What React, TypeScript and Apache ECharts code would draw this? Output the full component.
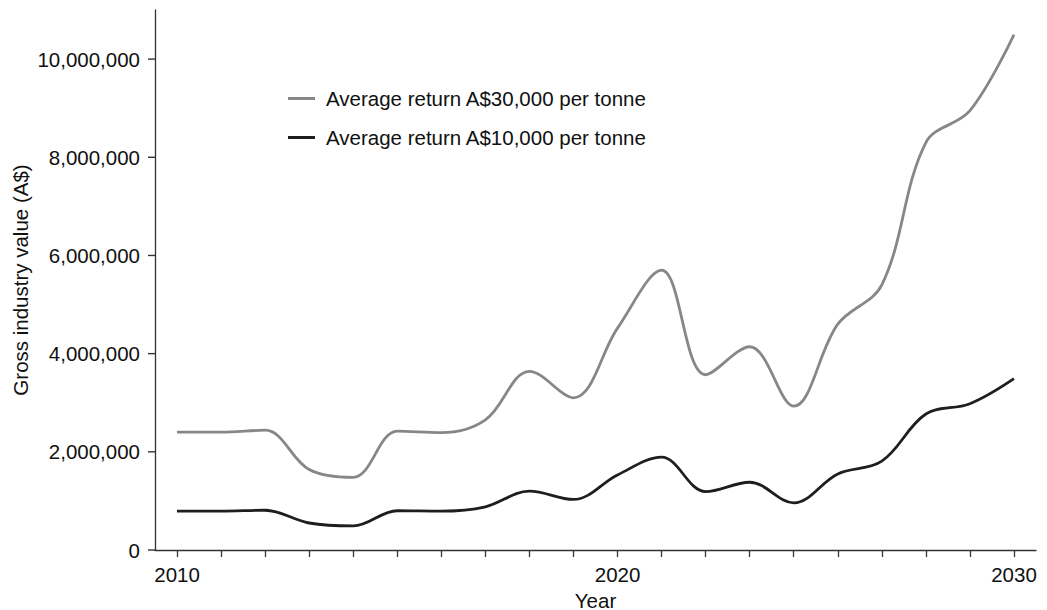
import React, { useEffect, useRef } from "react";
import * as echarts from "echarts";

const categories = ["2010", "", "", "", "", "", "", "", "", "", "2020", "", "", "", "", "", "", "", "", "2030"];
const yTickValues = [0, 2000000, 4000000, 6000000, 8000000, 10000000];

const seriesHighName = "Average return A$30,000 per tonne";
const seriesLowName = "Average return A$10,000 per tonne";

const highValues = [
  2400000, 2400000, 2440000, 1640000, 1480000, 2420000, 2390000, 2650000, 3640000, 3100000,
  4520000, 5700000, 3570000, 4140000, 2930000, 4600000, 5400000, 8300000, 8950000, 10500000,
];
const lowValues = [
  790000, 790000, 810000, 550000, 490000, 800000, 790000, 880000, 1200000, 1030000,
  1530000, 1890000, 1190000, 1380000, 960000, 1550000, 1810000, 2770000, 2980000, 3490000,
];

const FONT = "'Liberation Sans', Arial, Helvetica, sans-serif";
const AXIS_COLOR = "#333333";

export default function App() {
  const ref = useRef<HTMLDivElement>(null);
  useEffect(() => {
    if (!ref.current) return;
    const chart = echarts.init(ref.current, undefined, { renderer: "svg" });
    chart.setOption({
      animation: false,
      backgroundColor: "#ffffff",
      textStyle: { fontFamily: FONT },
      grid: { left: 155, right: 11, top: 10, bottom: 60, outerBoundsMode: "none" },
      legend: {
        orient: "vertical",
        left: 288,
        top: 88,
        padding: 0,
        icon: "rect",
        itemWidth: 27,
        itemHeight: 3,
        itemGap: 18,
        textStyle: { fontFamily: FONT, fontSize: 20.5, color: "#111", lineHeight: 20, padding: [0, 0, 0, 6] },
        data: [seriesHighName, seriesLowName],
      },
      xAxis: {
        type: "category",
        data: categories,
        boundaryGap: true,
        name: "Year",
        nameLocation: "middle",
        nameGap: 34,
        nameTextStyle: { fontFamily: FONT, fontSize: 20.5, lineHeight: 20, color: "#111", verticalAlign: "top" },
        axisLine: { show: true, lineStyle: { color: AXIS_COLOR, width: 1.3 } },
        axisTick: { show: true, inside: false, alignWithLabel: true, interval: 0, length: 7, lineStyle: { color: AXIS_COLOR, width: 1.3 } },
        axisLabel: { interval: 0, margin: 14, fontFamily: FONT, fontSize: 20.5, color: "#111" },
        splitLine: { show: false },
      },
      yAxis: {
        type: "value",
        min: 0,
        max: 11000000,
        interval: 2000000,
        name: "Gross industry value (A$)",
        nameLocation: "middle",
        nameGap: 124,
        nameMoveOverlap: false,
        nameTextStyle: { fontFamily: FONT, fontSize: 20.5, color: "#111" },
        axisLine: { show: true, onZero: false, lineStyle: { color: AXIS_COLOR, width: 1.3 } },
        axisTick: { show: false },
        axisLabel: {
          margin: 0,
          customValues: yTickValues,
          formatter: (v: number) => "{n|" + v.toLocaleString("en-US") + "}{s|}{t|}",
          rich: {
            n: { fontFamily: FONT, fontSize: 20.5, color: "#111", lineHeight: 20 },
            s: { width: 8, height: 2 },
            t: { width: 7, height: 1.4, backgroundColor: AXIS_COLOR },
          },
        },
        splitLine: { show: false },
      },
      series: [
        {
          name: seriesHighName,
          type: "line",
          data: highValues,
          smooth: 0.36,
          symbol: "none",
          lineStyle: { color: "#878787", width: 2.8 },
          itemStyle: { color: "#878787" },
        },
        {
          name: seriesLowName,
          type: "line",
          data: lowValues,
          smooth: 0.36,
          symbol: "none",
          lineStyle: { color: "#1e1e1e", width: 2.8 },
          itemStyle: { color: "#1e1e1e" },
        },
      ],
    });
    return () => chart.dispose();
  }, []);
  return (
    <div
      ref={ref}
      style={{ position: "absolute", left: 0, top: 0, width: 1047, height: 610, background: "#fff" }}
    />
  );
}
